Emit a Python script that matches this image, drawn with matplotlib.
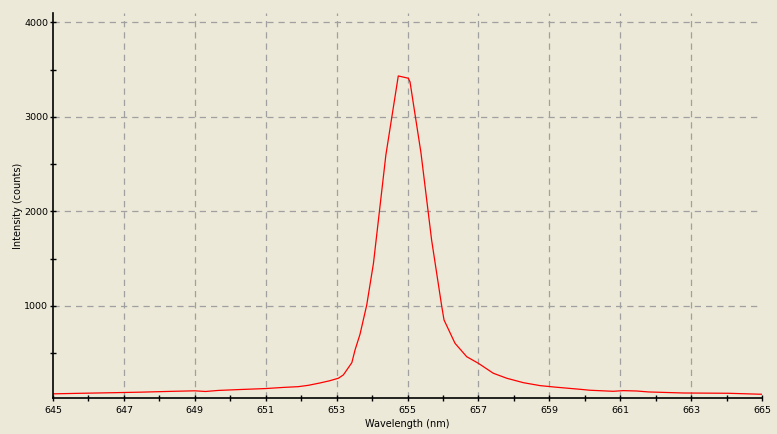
import matplotlib
matplotlib.use("Agg")
import matplotlib.pyplot as plt
from matplotlib.ticker import MultipleLocator

# spectrum
wavelength = [645.0, 645.8, 646.7, 647.5, 648.3, 649.0, 649.3, 649.66, 650.3, 651.0,
              651.5, 651.92, 652.2, 652.53, 652.8, 653.05, 653.19, 653.43, 653.52, 653.66,
              653.85, 654.04, 654.39, 654.74, 655.02, 655.07, 655.38, 655.68, 655.96, 656.03,
              656.34, 656.67, 657.0, 657.42, 657.8, 658.27, 658.74, 659.2, 659.87, 660.15,
              660.8, 661.09, 661.47, 661.8, 662.78, 664.05, 664.94, 665.0]
intensity = [70, 76, 82, 88, 96, 102, 95, 106, 116, 126,
             138, 146, 160, 185, 208, 235, 270, 400, 534, 700,
             1010, 1452, 2598, 3434, 3410, 3373, 2620, 1698, 1010, 852,
             605, 463, 393, 288, 235, 188, 157, 140, 118, 108,
             97, 104, 100, 90, 79, 76, 66, 66]

bg = "#ECE9D8"
plt.rcParams["font.family"] = "DejaVu Sans"

fig = plt.figure(figsize=(7.77, 4.34), dpi=100, facecolor=bg)
ax = fig.add_axes([53 / 777, 1 - 398 / 434, (762 - 53) / 777, (398 - 13) / 434])
ax.set_facecolor(bg)

ax.plot(wavelength, intensity, color="red", linewidth=0.9)

ax.set_xlim(645, 665)
ax.set_ylim(26, 4100)
# labelled ticks sit on the odd wavelengths
ax.xaxis.set_major_locator(MultipleLocator(2, offset=1))
ax.xaxis.set_minor_locator(MultipleLocator(1))
ax.yaxis.set_major_locator(MultipleLocator(1000))
ax.yaxis.set_minor_locator(MultipleLocator(500))

# dashed grey grid on the major ticks
ax.grid(True, which="major", color="#A0A0A0", linewidth=0.9, linestyle=(0, (5, 4)))

for side in ["top", "right"]:
    ax.spines[side].set_visible(False)
for side in ["left", "bottom"]:
    ax.spines[side].set_color("black")
    ax.spines[side].set_linewidth(1.2)

ax.tick_params(which="both", direction="inout", length=5, width=1, colors="black", labelsize=6.8)
ax.tick_params(axis="x", pad=3)
ax.tick_params(axis="y", pad=1)

ax.set_xlabel("Wavelength (nm)", fontsize=7, labelpad=3)
ax.set_ylabel("Intensity (counts)", fontsize=7, labelpad=1)

fig.canvas.draw()
# no grid line on the edge ticks
for gl, loc in zip(ax.get_xgridlines(), ax.get_xticks()):
    if loc >= 665 or loc <= 645:
        gl.set_visible(False)

fig.savefig("out.png", dpi=100, facecolor=bg)
